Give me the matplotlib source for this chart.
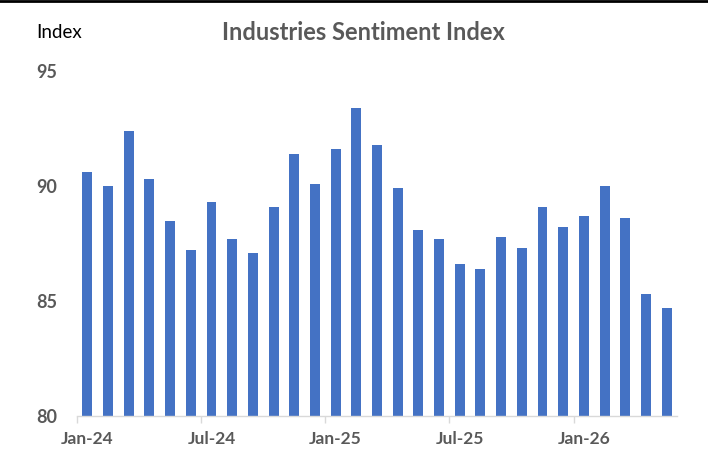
import matplotlib.pyplot as plt
import numpy as np

months = ["Jan-24", "Feb-24", "Mar-24", "Apr-24", "May-24", "Jun-24",
          "Jul-24", "Aug-24", "Sep-24", "Oct-24", "Nov-24", "Dec-24",
          "Jan-25", "Feb-25", "Mar-25", "Apr-25", "May-25", "Jun-25",
          "Jul-25", "Aug-25", "Sep-25", "Oct-25", "Nov-25", "Dec-25",
          "Jan-26", "Feb-26", "Mar-26", "Apr-26", "May-26"]
index_vals = [90.6, 90.0, 92.4, 90.3, 88.5, 87.2, 89.3, 87.7, 87.1, 89.1,
              91.4, 90.1, 91.6, 93.4, 91.8, 89.9, 88.1, 87.7, 86.6, 86.4,
              87.8, 87.3, 89.1, 88.2, 88.7, 90.0, 88.6, 85.3, 84.7]
yticks = [80, 85, 90, 95]

grey = "#595959"
plt.rcParams["font.family"] = ["Lato", "DejaVu Sans"]

fig = plt.figure(figsize=(7.08, 4.57), dpi=100)
ax = fig.add_axes([77 / 708, 41 / 457, 600 / 708, 345 / 457])

x = np.arange(len(months))
ax.bar(x, np.array(index_vals) - 80, bottom=80, width=0.48, color="#4472C4")

ax.set_xlim(-0.5, len(months) - 0.5)
ax.set_ylim(80, 95)
ax.set_yticks(yticks)
ax.set_yticklabels([str(v) for v in yticks], fontsize=13, color=grey, fontweight="bold")
ax.tick_params(axis="y", length=0, pad=14)

major = x[::6]
ax.set_xticks(major)
ax.set_xticklabels([months[i] for i in major], fontsize=12.5, color=grey, fontweight="bold")
ax.set_xticks(major - 0.5, minor=True)
ax.tick_params(axis="x", which="major", length=0, pad=11)
ax.tick_params(axis="x", which="minor", length=5, color="#d9d9d9", width=1)

for s in ["top", "right", "left"]:
    ax.spines[s].set_visible(False)
ax.spines["bottom"].set_color("#d9d9d9")
ax.spines["bottom"].set_linewidth(1)

fig.text(363 / 708, 1 - 33 / 457, "Industries Sentiment Index", ha="center", va="center",
         fontsize=17, fontweight="bold", color=grey)
fig.text(36 / 708, 1 - 33 / 457, "Index", ha="left", va="center", fontsize=13.5, color="black")

fig.add_artist(plt.Line2D([0, 1], [0.998, 0.998], color="black", lw=2, transform=fig.transFigure))

fig.savefig("out.png", dpi=100)
